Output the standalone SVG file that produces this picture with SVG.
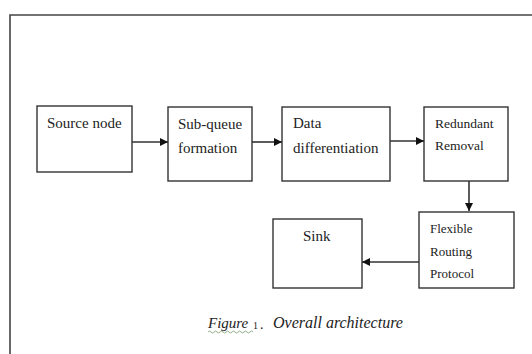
<svg xmlns="http://www.w3.org/2000/svg" width="532" height="354" viewBox="0 0 532 354">
<defs>
<style>
.box{fill:#fff;stroke:#333;stroke-width:1.4}
.t{font-family:'Liberation Serif','DejaVu Serif',serif;fill:#222}
.c{stroke:#333;stroke-width:1.6;fill:none}
.frame{stroke:#444;stroke-width:1.6;fill:none}
</style>
<marker id="ah" viewBox="0 0 10 10" refX="10" refY="5" markerWidth="8" markerHeight="8" markerUnits="userSpaceOnUse" orient="auto">
<path d="M0,0 L10,5 L0,10 Z" fill="#111"/>
</marker>
</defs>
<rect width="532" height="354" fill="#fff"/>
<path class="frame" d="M10,354 L10,15 L532,15"/>
<g id="source"><rect class="box" x="37" y="106" width="95" height="66"/><text class="t" x="47" y="128" font-size="15">Source node</text></g>
<g id="subqueue"><rect class="box" x="168" y="107" width="84" height="74"/><text class="t" x="178" y="129" font-size="15">Sub-queue</text><text class="t" x="178" y="153" font-size="15">formation</text></g>
<g id="datadiff"><rect class="box" x="282" y="107" width="108" height="74"/><text class="t" x="293" y="128" font-size="15">Data</text><text class="t" x="293" y="153" font-size="15">differentiation</text></g>
<g id="redundant"><rect class="box" x="424" y="107" width="84" height="74"/><text class="t" x="435" y="128" font-size="13.5">Redundant</text><text class="t" x="435" y="150" font-size="13.5">Removal</text></g>
<g id="flexible"><rect class="box" x="419" y="212" width="95" height="76"/><text class="t" x="430" y="233" font-size="13">Flexible</text><text class="t" x="430" y="256" font-size="13">Routing</text><text class="t" x="430" y="278" font-size="13">Protocol</text></g>
<g id="sink"><rect class="box" x="273" y="219" width="89" height="69"/><text class="t" x="303" y="241" font-size="15">Sink</text></g>
<g id="connectors">
<line class="c" x1="132" y1="142" x2="168" y2="142" marker-end="url(#ah)"/>
<line class="c" x1="252" y1="142" x2="282" y2="142" marker-end="url(#ah)"/>
<line class="c" x1="390" y1="141" x2="424" y2="141" marker-end="url(#ah)"/>
<line class="c" x1="469" y1="181" x2="469" y2="211" marker-end="url(#ah)"/>
<line class="c" x1="419" y1="262" x2="362" y2="262" marker-end="url(#ah)"/>
</g>
<g id="caption">
<text class="t" x="208" y="328" font-size="15" font-style="italic" fill="#333">Figure</text>
<text class="t" x="253" y="329" font-size="10" fill="#333">1</text>
<text class="t" x="260" y="329" font-size="14" fill="#333">.</text>
<text class="t" x="273" y="328" font-size="16" font-style="italic" fill="#333">Overall architecture</text>
<path d="M208,332 q1.5,-2 3,0 t3,0 t3,0 t3,0 t3,0 t3,0 t3,0 t3,0 t3,0 t3,0 t3,0 t3,0 t3,0 t3,0 t3,0" stroke="#7a9a6a" stroke-width="0.8" fill="none"/>
</g>
</svg>
